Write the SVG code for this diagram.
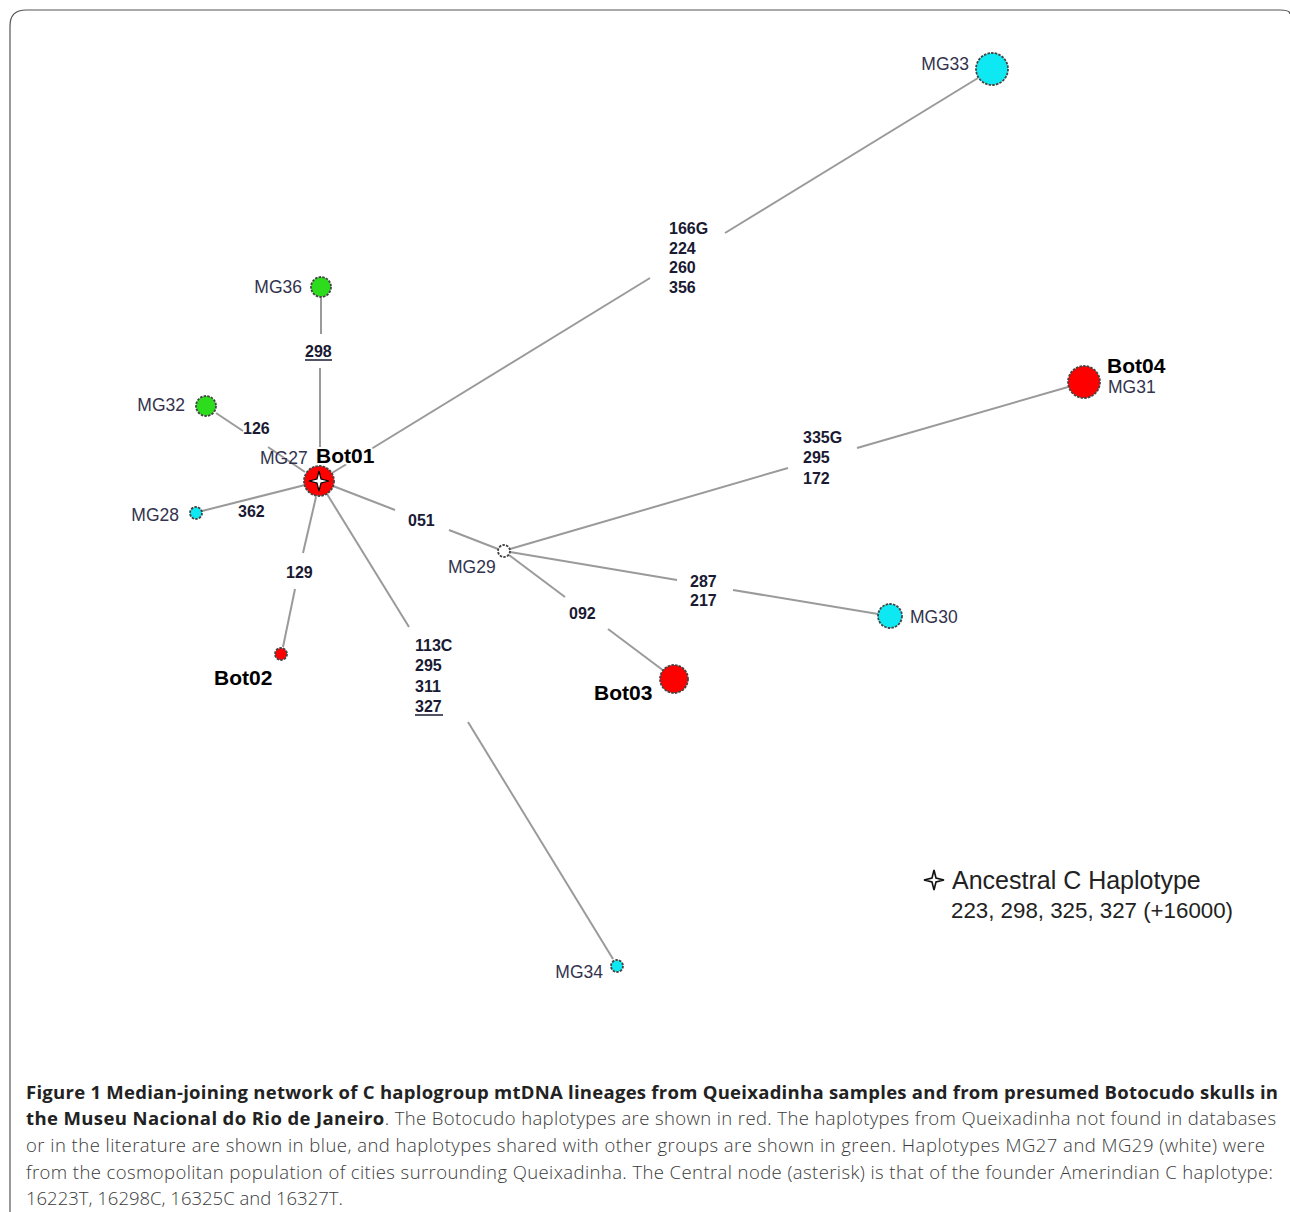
<svg xmlns="http://www.w3.org/2000/svg" width="1290" height="1212" viewBox="0 0 1290 1212">
<style>
.edge{stroke:#9a9a9a;stroke-width:2;fill:none}
.node{stroke:#444;stroke-width:1.8;stroke-dasharray:2.5 1.2}
.red{fill:#ff0000}
.cyan{fill:#0ee8f2}
.green{fill:#2edc1e}
.white{fill:#ffffff}
.mg{font-family:"Liberation Sans",Arial,sans-serif;font-size:17.5px;fill:#33334d}
.mut{font-family:"Liberation Sans",Arial,sans-serif;font-size:16px;font-weight:bold;fill:#1a1a33}
.bot{font-family:"Liberation Sans",Arial,sans-serif;font-size:21px;font-weight:bold;fill:#000}
.halo{stroke:#fff;stroke-width:4;paint-order:stroke;stroke-linejoin:round}
.leg{font-family:"Liberation Sans",Arial,sans-serif;fill:#222}
.cap{font-family:"Open Sans","Noto Sans",sans-serif;font-size:18.5px;fill:#3a3a3a;font-weight:300}
.capb{font-weight:bold;fill:#222}
</style>
<defs>
<path id="star" d="M0,-10 L2,-2 L10,0 L2,2 L0,10 L-2,2 L-10,0 L-2,-2 Z"/>
</defs>
<rect width="1290" height="1212" fill="#fff"/>
<path d="M10,1212 V26 Q10,10 26,10 H1280 Q1290,10 1290,14" fill="none" stroke="#555" stroke-width="1.2"/>

<g id="connectors">
<line class="edge" x1="321" y1="298" x2="321" y2="334"/>
<line class="edge" x1="320" y1="368" x2="320" y2="467"/>
<line class="edge" x1="216" y1="413" x2="243" y2="431"/>
<line class="edge" x1="268" y1="447" x2="305" y2="472"/>
<line class="edge" x1="202" y1="511" x2="305" y2="485"/>
<line class="edge" x1="316" y1="497" x2="303" y2="553"/>
<line class="edge" x1="295" y1="589" x2="283" y2="647"/>
<line class="edge" x1="327" y1="494" x2="409" y2="627"/>
<line class="edge" x1="468" y1="722" x2="613" y2="959"/>
<line class="edge" x1="332" y1="473" x2="650" y2="278"/>
<line class="edge" x1="725" y1="233" x2="978" y2="78"/>
<line class="edge" x1="333" y1="486" x2="395" y2="510"/>
<line class="edge" x1="449" y1="530" x2="498" y2="549"/>
<line class="edge" x1="510" y1="549" x2="788" y2="468"/>
<line class="edge" x1="857" y1="448" x2="1068" y2="387"/>
<line class="edge" x1="510" y1="552" x2="677" y2="580"/>
<line class="edge" x1="733" y1="590" x2="878" y2="614"/>
<line class="edge" x1="509" y1="555" x2="565" y2="597"/>
<line class="edge" x1="608" y1="629" x2="664" y2="671"/>
</g>

<g id="mutations">
<text class="mut" x="305" y="357">298</text>
<line x1="305" y1="360" x2="332" y2="360" stroke="#1a1a33" stroke-width="1.5"/>
<text class="mut" x="243" y="434">126</text>
<text class="mut" x="238" y="517">362</text>
<text class="mut" x="286" y="578">129</text>
<text class="mut" x="408" y="526">051</text>
<text class="mut" x="415" y="651">113C</text>
<text class="mut" x="415" y="671">295</text>
<text class="mut" x="415" y="692">311</text>
<text class="mut" x="415" y="712">327</text>
<line x1="415" y1="715" x2="443" y2="715" stroke="#1a1a33" stroke-width="1.5"/>
<text class="mut" x="569" y="619">092</text>
<text class="mut" x="690" y="587">287</text>
<text class="mut" x="690" y="606">217</text>
<text class="mut" x="803" y="443">335G</text>
<text class="mut" x="803" y="463">295</text>
<text class="mut" x="803" y="484">172</text>
<text class="mut" x="669" y="234">166G</text>
<text class="mut" x="669" y="254">224</text>
<text class="mut" x="669" y="273">260</text>
<text class="mut" x="669" y="293">356</text>
</g>

<g id="node-MG36">
<circle class="node green" cx="321" cy="287" r="10"/>
<text class="mg" x="302" y="293" text-anchor="end">MG36</text>
</g>
<g id="node-MG32">
<circle class="node green" cx="206" cy="406" r="10"/>
<text class="mg" x="185" y="411" text-anchor="end">MG32</text>
</g>
<g id="node-MG28">
<circle class="node cyan" cx="196" cy="513" r="6"/>
<text class="mg" x="179" y="521" text-anchor="end">MG28</text>
</g>
<g id="node-Bot01">
<circle class="node red" cx="319" cy="481" r="15"/>
<use href="#star" x="319" y="481" fill="#fff" stroke="#000" stroke-width="1.2"/>
<text class="mg" x="260" y="464">MG27</text>
<text class="bot halo" x="316" y="463">Bot01</text>
</g>
<g id="node-Bot02">
<circle class="node red" cx="281" cy="654" r="6"/>
<text class="bot" x="214" y="685">Bot02</text>
</g>
<g id="node-MG29">
<circle class="node white" cx="504" cy="551" r="6"/>
<text class="mg" x="448" y="573">MG29</text>
</g>
<g id="node-Bot03">
<circle class="node red" cx="674" cy="679" r="14"/>
<text class="bot" x="594" y="700">Bot03</text>
</g>
<g id="node-MG30">
<circle class="node cyan" cx="890" cy="616" r="12"/>
<text class="mg" x="910" y="623">MG30</text>
</g>
<g id="node-Bot04">
<circle class="node red" cx="1084" cy="382" r="16"/>
<text class="bot" x="1107" y="373">Bot04</text>
<text class="mg" x="1108" y="393">MG31</text>
</g>
<g id="node-MG33">
<circle class="node cyan" cx="992" cy="69" r="16"/>
<text class="mg" x="969" y="70" text-anchor="end">MG33</text>
</g>
<g id="node-MG34">
<circle class="node cyan" cx="617" cy="966" r="6"/>
<text class="mg" x="603" y="978" text-anchor="end">MG34</text>
</g>

<g id="legend">
<use href="#star" x="934" y="880" fill="#fff" stroke="#111" stroke-width="1.6"/>
<text class="leg" x="952" y="889" font-size="25">Ancestral C Haplotype</text>
<text class="leg" x="951" y="918" font-size="22.3">223, 298, 325, 327 (+16000)</text>
</g>

<g id="caption">
<text class="cap capb" x="26" y="1099" textLength="1252" lengthAdjust="spacing">Figure 1 Median-joining network of C haplogroup mtDNA lineages from Queixadinha samples and from presumed Botocudo skulls in</text>
<text class="cap" x="26" y="1125" textLength="1250" lengthAdjust="spacing"><tspan class="capb">the Museu Nacional do Rio de Janeiro</tspan>. The Botocudo haplotypes are shown in red. The haplotypes from Queixadinha not found in databases</text>
<text class="cap" x="26" y="1152" textLength="1239" lengthAdjust="spacing">or in the literature are shown in blue, and haplotypes shared with other groups are shown in green. Haplotypes MG27 and MG29 (white) were</text>
<text class="cap" x="26" y="1179" textLength="1247" lengthAdjust="spacing">from the cosmopolitan population of cities surrounding Queixadinha. The Central node (asterisk) is that of the founder Amerindian C haplotype:</text>
<text class="cap" x="26" y="1205">16223T, 16298C, 16325C and 16327T.</text>
</g>
</svg>
